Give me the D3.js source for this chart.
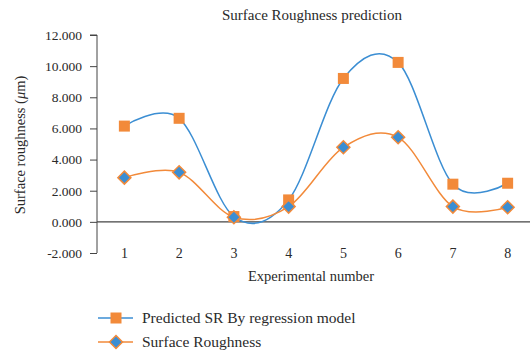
<!DOCTYPE html>
<html><head><meta charset="utf-8">
<script src="https://cdnjs.cloudflare.com/ajax/libs/d3/7.8.5/d3.min.js"></script>
<style>body{margin:0;background:#fff;} text{font-family:"Liberation Serif","DejaVu Serif",serif;fill:#2a2a2a;}</style>
</head><body>
<svg id="c" width="530" height="353"></svg>
<script>
const categories = ["1","2","3","4","5","6","7","8"];
const predicted = [6.15, 6.65, 0.34, 1.41, 9.21, 10.24, 2.42, 2.48];
const measured = [2.84, 3.18, 0.30, 0.98, 4.79, 5.43, 0.98, 0.94];
const yTicks = [-2, 0, 2, 4, 6, 8, 10, 12];
const seriesNames = ["Predicted SR By regression model", "Surface Roughness"];
const blue = "#3b8ed3", orange = "#f28a3a";

const svg = d3.select("#c");
const x = d3.scaleBand().domain(categories).range([97, 535]);
const y = d3.scaleLinear().domain([-2, 12]).range([253, 35]);

svg.append("text").attr("x", 312).attr("y", 20).attr("text-anchor","middle").attr("font-size",15).text("Surface Roughness prediction");

// y axis
const fmt = d3.format(".3f");
const ya = svg.append("g").attr("transform","translate(97,0)")
  .call(d3.axisLeft(y).tickValues(yTicks).tickFormat(d=>fmt(d).replace("\u2212","-")).tickSize(7).tickPadding(8));
ya.select(".domain").attr("stroke","#444").attr("d","M0,"+y(-2)+"V"+y(12)+"M-7,"+y(12)+"H0");
ya.selectAll(".tick line").attr("stroke","#444");
ya.selectAll("text").attr("font-size",13.5).attr("fill","#2a2a2a");

// zero line
svg.append("line").attr("x1",97).attr("x2",530).attr("y1",y(0)).attr("y2",y(0)).attr("stroke","#444").attr("stroke-width",1.2);

// x labels
svg.append("g").selectAll("text").data(categories).join("text")
  .attr("x", d=>x(d)+x.bandwidth()/2).attr("y", 258).attr("text-anchor","middle").attr("font-size",14).text(d=>d);

svg.append("text").attr("x",311).attr("y",281).attr("text-anchor","middle").attr("font-size",14.5).text("Experimental number");

const yl = svg.append("text").attr("transform","translate(25,145) rotate(-90)").attr("text-anchor","middle").attr("font-size",14.5);
yl.append("tspan").text("Surface roughness (");
yl.append("tspan").attr("font-style","italic").text("μ");
yl.append("tspan").text("m)");

const line = d3.line().x((d,i)=>x(categories[i])+x.bandwidth()/2).y(d=>y(d)).curve(d3.curveCardinal.tension(0));

svg.append("path").attr("d", line(predicted)).attr("fill","none").attr("stroke",blue).attr("stroke-width",1.5);
svg.append("path").attr("d", line(measured)).attr("fill","none").attr("stroke",orange).attr("stroke-width",1.5);

const sq = 11;
svg.append("g").selectAll("rect").data(predicted).join("rect")
  .attr("x",(d,i)=>x(categories[i])+x.bandwidth()/2-sq/2).attr("y",d=>y(d)-sq/2)
  .attr("width",sq).attr("height",sq).attr("fill",orange);
const dm = 6.5;
const diamond = (cx,cy)=>`M${cx},${cy-dm}L${cx+dm},${cy}L${cx},${cy+dm}L${cx-dm},${cy}Z`;
svg.append("g").selectAll("path").data(measured).join("path")
  .attr("d",(d,i)=>diamond(x(categories[i])+x.bandwidth()/2, y(d)))
  .attr("fill",blue).attr("stroke",orange).attr("stroke-width",1.5);

// legend
const lg = svg.append("g");
[0,1].forEach(k=>{
  const ly = 318 + k*24;
  lg.append("line").attr("x1",98).attr("x2",133).attr("y1",ly).attr("y2",ly).attr("stroke",k?orange:blue).attr("stroke-width",1.5);
  if(k===0) lg.append("rect").attr("x",116-sq/2).attr("y",ly-sq/2).attr("width",sq).attr("height",sq).attr("fill",orange);
  else lg.append("path").attr("d",diamond(116,ly)).attr("fill",blue).attr("stroke",orange).attr("stroke-width",1.5);
  lg.append("text").attr("x",142).attr("y",ly+5).attr("font-size",15.5).text(seriesNames[k]);
});
</script>
</body></html>
